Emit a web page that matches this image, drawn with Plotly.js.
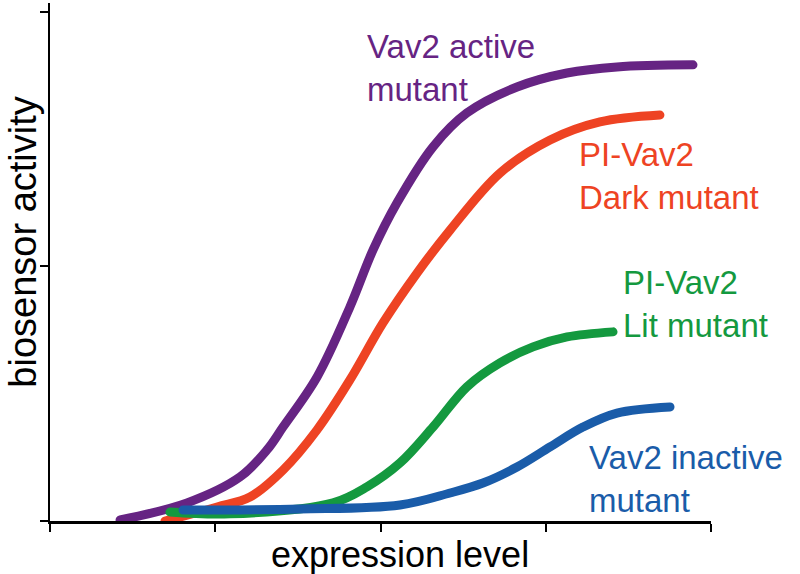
<!DOCTYPE html>
<html>
<head>
<meta charset="utf-8">
<script src="https://cdn.plot.ly/plotly-3.0.1.min.js"></script>
<style>
  html, body { margin: 0; padding: 0; background: #fff; }
  #chart { width: 800px; height: 574px; }
  .scatterlayer .js-line { stroke-linecap: round; }
</style>
</head>
<body>
<div id="chart"></div>
<script>
// Values (x: expression level, y: biosensor activity; arbitrary units)
const activeX   = [0.424, 0.829, 1.150, 1.313, 1.410, 1.616, 1.815, 1.955, 2.100, 2.318, 2.523, 2.826, 3.128, 3.431, 3.891];
const activeY   = [0.004, 0.071, 0.173, 0.279, 0.369, 0.566, 0.841, 1.065, 1.250, 1.470, 1.603, 1.705, 1.760, 1.784, 1.792];

const darkX     = [0.696, 1.011, 1.210, 1.410, 1.616, 1.815, 2.015, 2.221, 2.421, 2.723, 3.026, 3.328, 3.691];
const darkY     = [0.000, 0.055, 0.094, 0.200, 0.358, 0.554, 0.778, 0.974, 1.143, 1.367, 1.497, 1.568, 1.595];

const litX      = [0.726, 1.089, 1.713, 1.918, 2.118, 2.318, 2.523, 2.723, 2.923, 3.129, 3.407];
const litY      = [0.035, 0.028, 0.071, 0.134, 0.228, 0.369, 0.527, 0.621, 0.684, 0.723, 0.743];

const inactiveX = [0.805, 1.513, 2.118, 2.421, 2.620, 2.826, 3.026, 3.225, 3.431, 3.752];
const inactiveY = [0.043, 0.047, 0.063, 0.110, 0.149, 0.212, 0.291, 0.369, 0.424, 0.448];

const xTicks = [0, 1, 2, 3, 4];
const yTicks = [0, 1, 2];

const seriesLabels = [
  "Vav2 active<br>mutant",
  "PI-Vav2<br>Dark mutant",
  "PI-Vav2<br>Lit mutant",
  "Vav2 inactive<br>mutant"
];
const xTitle = "expression level";
const yTitle = "biosensor activity";

const colors = ["#662483", "#ee4323", "#14993f", "#1a5ca9"];

function line(x, y, c) {
  return { x: x, y: y, type: "scatter", mode: "lines",
           line: { color: c, width: 9, shape: "spline", smoothing: 1 },
           hoverinfo: "skip", showlegend: false, cliponaxis: false };
}

const data = [
  line(activeX, activeY, colors[0]),
  line(darkX, darkY, colors[1]),
  line(litX, litY, colors[2]),
  line(inactiveX, inactiveY, colors[3])
];

// label anchor positions (data coords: left edge / vertical middle of each label block)
const labelPos = [
  [1.905, 1.778],
  [3.190, 1.354],
  [3.455, 0.851],
  [3.250, 0.165]
];

const annotations = seriesLabels.map((t, i) => ({
  text: t, x: labelPos[i][0], y: labelPos[i][1],
  xref: "x", yref: "y", xanchor: "left", yanchor: "middle", align: "left",
  showarrow: false,
  font: { family: "Liberation Sans, Arial, sans-serif", size: 33, color: colors[i] }
}));
annotations.push({
  text: xTitle, xref: "paper", yref: "paper", x: 0.5295, y: -0.064,
  xanchor: "center", yanchor: "middle", showarrow: false,
  font: { family: "Liberation Sans, Arial, sans-serif", size: 36, color: "#000" }
});
annotations.push({
  text: yTitle, xref: "paper", yref: "paper", x: -0.041, y: 0.539,
  xanchor: "center", yanchor: "middle", textangle: -90, showarrow: false,
  font: { family: "Liberation Sans, Arial, sans-serif", size: 38, color: "#000" }
});

const axisCommon = {
  showgrid: false, zeroline: false, showticklabels: false,
  showline: true, linecolor: "#000", linewidth: 2.5,
  ticks: "outside", ticklen: 8, tickwidth: 2, tickcolor: "#000",
  tickmode: "array", fixedrange: true
};

const layout = {
  width: 800, height: 574,
  margin: { l: 50, r: 89, t: 3, b: 53 },
  paper_bgcolor: "#fff", plot_bgcolor: "#fff",
  xaxis: Object.assign({}, axisCommon, { range: [0, 4], tickvals: xTicks }),
  yaxis: Object.assign({}, axisCommon, { range: [0, 2.035], tickvals: yTicks }),
  annotations: annotations,
  showlegend: false
};

Plotly.newPlot("chart", data, layout, { displayModeBar: false, staticPlot: true });
</script>
</body>
</html>
